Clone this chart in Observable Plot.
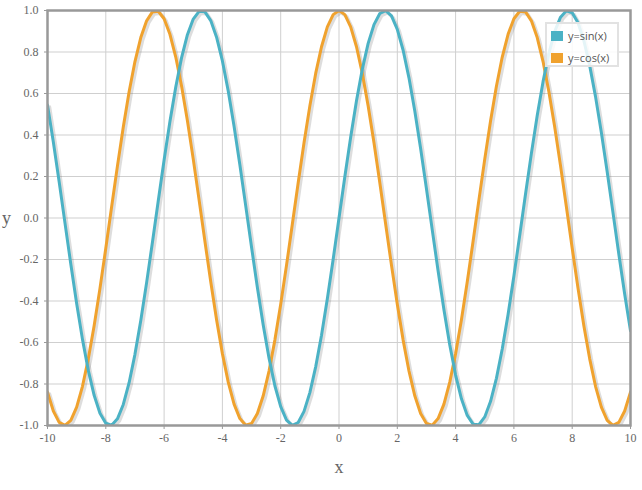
<!DOCTYPE html>
<html>
<head>
<meta charset="utf-8">
<script src="https://cdn.jsdelivr.net/npm/d3@7"></script>
<script src="https://cdn.jsdelivr.net/npm/@observablehq/plot@0.6"></script>
<style>
  body { margin: 0; background: #fff; }
  #wrap { position: relative; width: 642px; height: 490px; }
  #legend {
    position: absolute; left: 545px; top: 22px; width: 70px; height: 41px;
    border: 2px solid #e2e2e2; background: rgba(255,255,255,0.85);
    font-family: "Open Sans", sans-serif; font-size: 11px; color: #555;
  }
  .item { position: absolute; left: 4px; height: 12px; line-height: 12px; white-space: nowrap; }
  .sw { display: inline-block; width: 12px; height: 10px; vertical-align: -1px; margin-right: 5px; }
  svg text { font-family: "Liberation Serif", "Times New Roman", serif; }
</style>
</head>
<body>
<div id="wrap">
  <div id="legend">
    <div class="item" style="top:6px"><span class="sw" style="background:#4bb2c5"></span>y=sin(x)</div>
    <div class="item" style="top:28px"><span class="sw" style="background:#f0a22e"></span>y=cos(x)</div>
  </div>
</div>
<script>
const xs = [-10,-9.8,-9.6,-9.4,-9.2,-9,-8.8,-8.6,-8.4,-8.2,-8,-7.8,-7.6,-7.4,-7.2,-7,-6.8,-6.6,-6.4,-6.2,
  -6,-5.8,-5.6,-5.4,-5.2,-5,-4.8,-4.6,-4.4,-4.2,-4,-3.8,-3.6,-3.4,-3.2,-3,-2.8,-2.6,-2.4,-2.2,
  -2,-1.8,-1.6,-1.4,-1.2,-1,-0.8,-0.6,-0.4,-0.2,0,0.2,0.4,0.6,0.8,1,1.2,1.4,1.6,1.8,
  2,2.2,2.4,2.6,2.8,3,3.2,3.4,3.6,3.8,4,4.2,4.4,4.6,4.8,5,5.2,5.4,5.6,5.8,
  6,6.2,6.4,6.6,6.8,7,7.2,7.4,7.6,7.8,8,8.2,8.4,8.6,8.8,9,9.2,9.4,9.6,9.8,10];

const sinValues = [0.544,0.3665,0.1743,-0.0248,-0.2229,-0.4121,-0.5849,-0.7344,-0.8546,-0.9407,
  -0.9894,-0.9985,-0.9679,-0.8987,-0.7937,-0.657,-0.4941,-0.3115,-0.1165,0.0831,
  0.2794,0.4646,0.6313,0.7728,0.8835,0.9589,0.9962,0.9937,0.9516,0.8716,
  0.7568,0.6119,0.4425,0.2555,0.0584,-0.1411,-0.335,-0.5155,-0.6755,-0.8085,
  -0.9093,-0.9738,-0.9996,-0.9854,-0.932,-0.8415,-0.7174,-0.5646,-0.3894,-0.1987,
  0,
  0.1987,0.3894,0.5646,0.7174,0.8415,0.932,0.9854,0.9996,0.9738,0.9093,
  0.8085,0.6755,0.5155,0.335,0.1411,-0.0584,-0.2555,-0.4425,-0.6119,-0.7568,
  -0.8716,-0.9516,-0.9937,-0.9962,-0.9589,-0.8835,-0.7728,-0.6313,-0.4646,-0.2794,
  -0.0831,0.1165,0.3115,0.4941,0.657,0.7937,0.8987,0.9679,0.9985,0.9894,
  0.9407,0.8546,0.7344,0.5849,0.4121,0.2229,0.0248,-0.1743,-0.3665,-0.544];

const cosValues = [-0.8391,-0.9304,-0.9847,-0.9997,-0.9748,-0.9111,-0.8111,-0.6787,-0.5193,-0.3392,
  -0.1455,0.054,0.2513,0.4385,0.6084,0.7539,0.8694,0.9502,0.9932,0.9965,
  0.9602,0.8855,0.7756,0.6347,0.4685,0.2837,0.0875,-0.1122,-0.3073,-0.4903,
  -0.6536,-0.791,-0.8968,-0.9668,-0.9983,-0.99,-0.9422,-0.8569,-0.7374,-0.5885,
  -0.4161,-0.2272,-0.0292,0.17,0.3624,0.5403,0.6967,0.8253,0.9211,0.9801,
  1,
  0.9801,0.9211,0.8253,0.6967,0.5403,0.3624,0.17,-0.0292,-0.2272,-0.4161,
  -0.5885,-0.7374,-0.8569,-0.9422,-0.99,-0.9983,-0.9668,-0.8968,-0.791,-0.6536,
  -0.4903,-0.3073,-0.1122,0.0875,0.2837,0.4685,0.6347,0.7756,0.8855,0.9602,
  0.9965,0.9932,0.9502,0.8694,0.7539,0.6084,0.4385,0.2513,0.054,-0.1455,
  -0.3392,-0.5193,-0.6787,-0.8111,-0.9111,-0.9748,-0.9997,-0.9847,-0.9304,-0.8391];

const xTicks = [-10,-8,-6,-4,-2,0,2,4,6,8,10];
const yTicks = [-1,-0.8,-0.6,-0.4,-0.2,0,0.2,0.4,0.6,0.8,1];
const seriesNames = ["y=sin(x)", "y=cos(x)"];
const seriesColors = ["#4bb2c5", "#f0a22e"];

const sinData = xs.map((x, i) => ({x, y: sinValues[i]}));
const cosData = xs.map((x, i) => ({x, y: cosValues[i]}));

const serif = "'Liberation Serif', 'Times New Roman', serif";

const chart = Plot.plot({
  width: 642,
  height: 490,
  marginLeft: 47,
  marginRight: 12,
  marginTop: 10,
  marginBottom: 65,
  style: {fontFamily: serif, fontSize: "12px", color: "#666", background: "transparent"},
  x: {domain: [-10, 10]},
  y: {domain: [-1, 1]},
  marks: [
    Plot.gridX(xTicks, {stroke: "#cfcfcf", strokeOpacity: 1, strokeWidth: 1}),
    Plot.gridY(yTicks, {stroke: "#cfcfcf", strokeOpacity: 1, strokeWidth: 1}),
    Plot.axisX({ticks: xTicks, tickFormat: d => String(d), tickSize: 4, tickPadding: 4, stroke: "#999", label: null, fill: "#666", fontSize: 12, fontFamily: serif}),
    Plot.axisY({ticks: yTicks, tickFormat: d => d.toFixed(1), tickSize: 3, tickPadding: 6, stroke: "#999", label: null, fill: "#666", fontSize: 12, fontFamily: serif}),
    // shadows
    Plot.line(sinData, {x: "x", y: "y", stroke: "#777", strokeOpacity: 0.25, strokeWidth: 3.5, dx: 2, dy: 2, clip: true}),
    Plot.line(cosData, {x: "x", y: "y", stroke: "#777", strokeOpacity: 0.25, strokeWidth: 3.5, dx: 2, dy: 2, clip: true}),
    Plot.line(cosData, {x: "x", y: "y", stroke: seriesColors[1], strokeWidth: 3, clip: true}),
    Plot.line(sinData, {x: "x", y: "y", stroke: seriesColors[0], strokeWidth: 3, clip: true}),
    Plot.frame({stroke: "#999", strokeWidth: 2.5}),
    Plot.text(["x"], {frameAnchor: "bottom", dy: 47, text: d => d, fontSize: 18, fill: "#666", textAnchor: "middle", fontFamily: serif}),
    Plot.text(["y"], {frameAnchor: "left", dx: -41, text: d => d, fontSize: 18, fill: "#666", textAnchor: "middle", fontFamily: serif})
  ]
});
chart.style.position = "absolute";
chart.style.left = "0";
chart.style.top = "0";
document.getElementById("wrap").prepend(chart);
</script>
</body>
</html>
